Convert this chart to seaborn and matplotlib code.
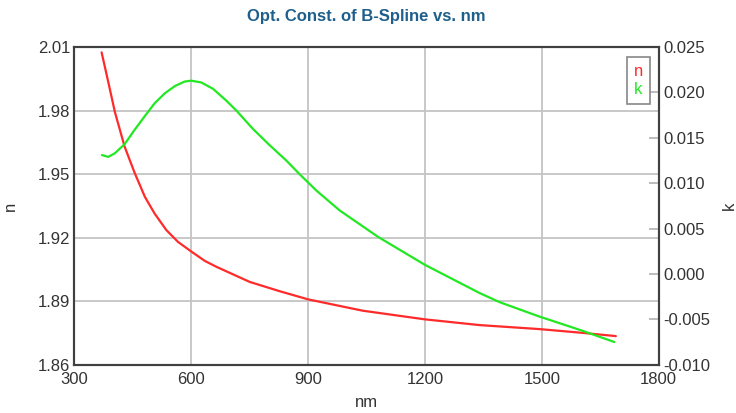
import matplotlib
matplotlib.use('Agg')
import matplotlib.pyplot as plt
import pandas as pd
import seaborn as sns

# valores (n no eixo esquerdo, k no eixo direito)
wl_n = [370, 387, 404, 429, 455, 481, 506, 536, 566, 599, 635, 665, 750, 827, 901,
        1040, 1200, 1340, 1494, 1600, 1690]
n_vals = [2.0075, 1.9936, 1.9794, 1.9630, 1.9505, 1.9393, 1.9314, 1.9236, 1.9180, 1.9136,
          1.9090, 1.9062, 1.8991, 1.8947, 1.8908, 1.8855, 1.8814, 1.8787, 1.8768, 1.8751, 1.8735]

wl_k = [371, 387, 404, 429, 455, 481, 506, 532, 558, 583, 600, 626, 656, 690, 716, 758,
        801, 844, 878, 921, 981, 1079, 1200, 1340, 1391, 1494, 1600, 1686]
k_vals = [0.0131, 0.0129, 0.0133, 0.0143, 0.0159, 0.0174, 0.0188, 0.0199, 0.0207, 0.0212,
          0.0213, 0.0211, 0.0204, 0.0191, 0.0180, 0.0160, 0.0142, 0.0125, 0.0110, 0.0092,
          0.0070, 0.0041, 0.0010, -0.0021, -0.0031, -0.0047, -0.0062, -0.0075]

x_ticks = [300, 600, 900, 1200, 1500, 1800]
n_ticks = [1.86, 1.89, 1.92, 1.95, 1.98, 2.01]
k_ticks = [-0.010, -0.005, 0.000, 0.005, 0.010, 0.015, 0.020, 0.025]

df_n = pd.DataFrame({'nm': wl_n, 'n': n_vals})
df_k = pd.DataFrame({'nm': wl_k, 'k': k_vals})

sns.set_style('white')
plt.rcParams['font.family'] = ['Liberation Sans', 'DejaVu Sans']

red = '#ff2a2a'
green = '#22e822'
spine_col = '#404040'
txt_col = '#333333'
fs = 12

fig = plt.figure(figsize=(7.36, 4.13), dpi=100)
ax = fig.add_axes([0.101, 0.117, 0.794, 0.769])
ax2 = ax.twinx()

sns.lineplot(data=df_n, x='nm', y='n', ax=ax, color=red, linewidth=1.6, label='n', legend=False)
sns.lineplot(data=df_k, x='nm', y='k', ax=ax2, color=green, linewidth=1.6, label='k', legend=False)

ax.set_xlim(300, 1800)
ax.set_ylim(1.86, 2.01)
ax2.set_ylim(-0.010, 0.025)
ax.set_xticks(x_ticks)
ax.set_yticks(n_ticks)
ax.set_yticklabels(['%.2f' % v for v in n_ticks])
ax2.set_yticks(k_ticks)
ax2.set_yticklabels(['%.3f' % v for v in k_ticks])

ax.grid(True, color='#c4c4c4', linewidth=1.3)
ax.set_axisbelow(True)

for a in (ax, ax2):
    for s in a.spines.values():
        s.set_color(spine_col)
        s.set_linewidth(1.5)

ax.tick_params(axis='y', length=0, labelsize=fs, colors=txt_col, pad=3)
ax.tick_params(axis='x', length=0, labelsize=fs, colors=txt_col, pad=5)
ax2.tick_params(axis='y', direction='in', length=7, width=1.2, color='#b0b0b0', labelsize=fs,
                labelcolor=txt_col, pad=3)

ax.set_xlabel('nm', fontsize=fs, color=txt_col)
ax.set_ylabel('n', fontsize=fs, color=txt_col)
ax2.set_ylabel('k', fontsize=fs, color=txt_col)
ax.xaxis.set_label_coords(0.5, -0.097)
ax.yaxis.set_label_coords(-0.097, 0.5)
ax2.yaxis.set_label_coords(1.108, 0.5)

ax.set_title('Opt. Const. of B-Spline vs. nm', fontsize=fs, fontweight='bold',
             color='#1f5f8b', pad=19)

# legenda só com texto colorido
handles = ax.get_lines()[:1] + ax2.get_lines()[:1]
leg = ax2.legend(handles, ['n', 'k'], loc='upper right', bbox_to_anchor=(0.985, 0.969),
                 handlelength=0, handletextpad=0, fancybox=False, edgecolor='#888888',
                 framealpha=1, fontsize=fs, borderpad=0.4, borderaxespad=0,
                 labelspacing=0.2)
leg.get_frame().set_linewidth(1.2)
for h in leg.legend_handles:
    h.set_visible(False)
for txt, c in zip(leg.get_texts(), [red, green]):
    txt.set_color(c)

fig.savefig('out.png', dpi=100)
